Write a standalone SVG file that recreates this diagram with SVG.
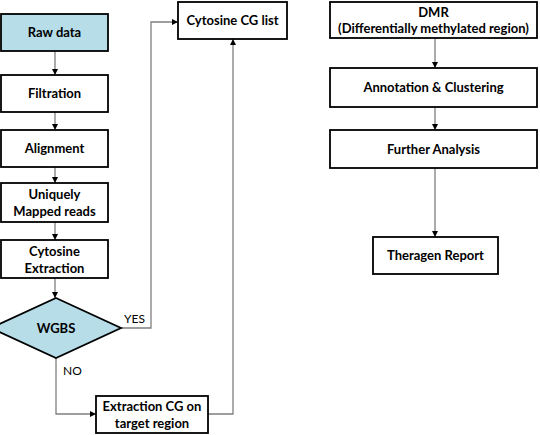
<svg xmlns="http://www.w3.org/2000/svg" width="540" height="435" viewBox="0 0 540 435">
<defs>
<marker id="ah" viewBox="0 0 10 10" refX="10" refY="5" markerWidth="6" markerHeight="6" orient="auto" markerUnits="userSpaceOnUse">
<path d="M0,0 L10,5 L0,10 z" fill="#000"/>
</marker>
</defs>
<style>
.box{fill:#fff;stroke:#000;stroke-width:1.8}
.blue{fill:#b7dde8}
.t{font-family:Lato,"Open Sans","Liberation Sans",sans-serif;font-weight:bold;font-size:13px;fill:#000;text-anchor:middle}
.lbl{font-family:Lato,"Open Sans","Liberation Sans",sans-serif;font-size:12px;fill:#000}
.c{fill:none;stroke:#7f7f7f;stroke-width:1.3;marker-end:url(#ah)}
</style>
<rect width="540" height="435" fill="#fff"/>
<g id="connectors">
<line class="c" x1="55" y1="51" x2="55" y2="75"/>
<line class="c" x1="55" y1="112" x2="55" y2="130"/>
<line class="c" x1="55" y1="167" x2="55" y2="183"/>
<line class="c" x1="55" y1="222" x2="55" y2="240"/>
<line class="c" x1="55" y1="278" x2="55" y2="298"/>
<path class="c" d="M121,328 H151 V22 H178"/>
<path class="c" d="M56,358 V414 H96"/>
<path class="c" d="M208,414 H233 V39"/>
<line class="c" x1="435" y1="38" x2="435" y2="68"/>
<line class="c" x1="435" y1="107" x2="435" y2="130"/>
<line class="c" x1="435" y1="168" x2="435" y2="237"/>
<text class="lbl" x="124" y="323">YES</text>
<text class="lbl" x="63" y="375">NO</text>
</g>
<g id="raw-data">
<rect class="box blue" x="1" y="14" width="107" height="37"/>
<text class="t" x="54.5" y="37">Raw data</text>
</g>
<g id="filtration">
<rect class="box" x="1" y="75" width="107" height="37"/>
<text class="t" x="54.5" y="98">Filtration</text>
</g>
<g id="alignment">
<rect class="box" x="1" y="130" width="107" height="37"/>
<text class="t" x="54.5" y="153">Alignment</text>
</g>
<g id="uniquely-mapped">
<rect class="box" x="1" y="183" width="107" height="39"/>
<text class="t" x="54.5" y="199">Uniquely</text>
<text class="t" x="54.5" y="216">Mapped reads</text>
</g>
<g id="cytosine-extraction">
<rect class="box" x="1" y="240" width="107" height="38"/>
<text class="t" x="54.5" y="256">Cytosine</text>
<text class="t" x="54.5" y="273">Extraction</text>
</g>
<g id="wgbs">
<polygon class="box blue" points="56,298 121,328 56,358 -9,328"/>
<text class="t" x="56" y="333">WGBS</text>
</g>
<g id="extraction-cg">
<rect class="box" x="96" y="396" width="112" height="37"/>
<text class="t" x="152" y="411">Extraction CG on</text>
<text class="t" x="152" y="428">target region</text>
</g>
<g id="cytosine-cg-list">
<rect class="box" x="178" y="2" width="109" height="37"/>
<text class="t" x="232.5" y="25">Cytosine CG list</text>
</g>
<g id="dmr">
<rect class="box" x="330" y="2" width="207" height="36"/>
<text class="t" x="433.5" y="17">DMR</text>
<text class="t" x="433.5" y="33">(Differentially methylated region)</text>
</g>
<g id="annotation">
<rect class="box" x="330" y="68" width="207" height="39"/>
<text class="t" x="433.5" y="92">Annotation &amp; Clustering</text>
</g>
<g id="further-analysis">
<rect class="box" x="330" y="130" width="207" height="38"/>
<text class="t" x="433.5" y="154">Further Analysis</text>
</g>
<g id="theragen-report">
<rect class="box" x="373" y="237" width="125" height="37"/>
<text class="t" x="435.5" y="260">Theragen Report</text>
</g>
</svg>
